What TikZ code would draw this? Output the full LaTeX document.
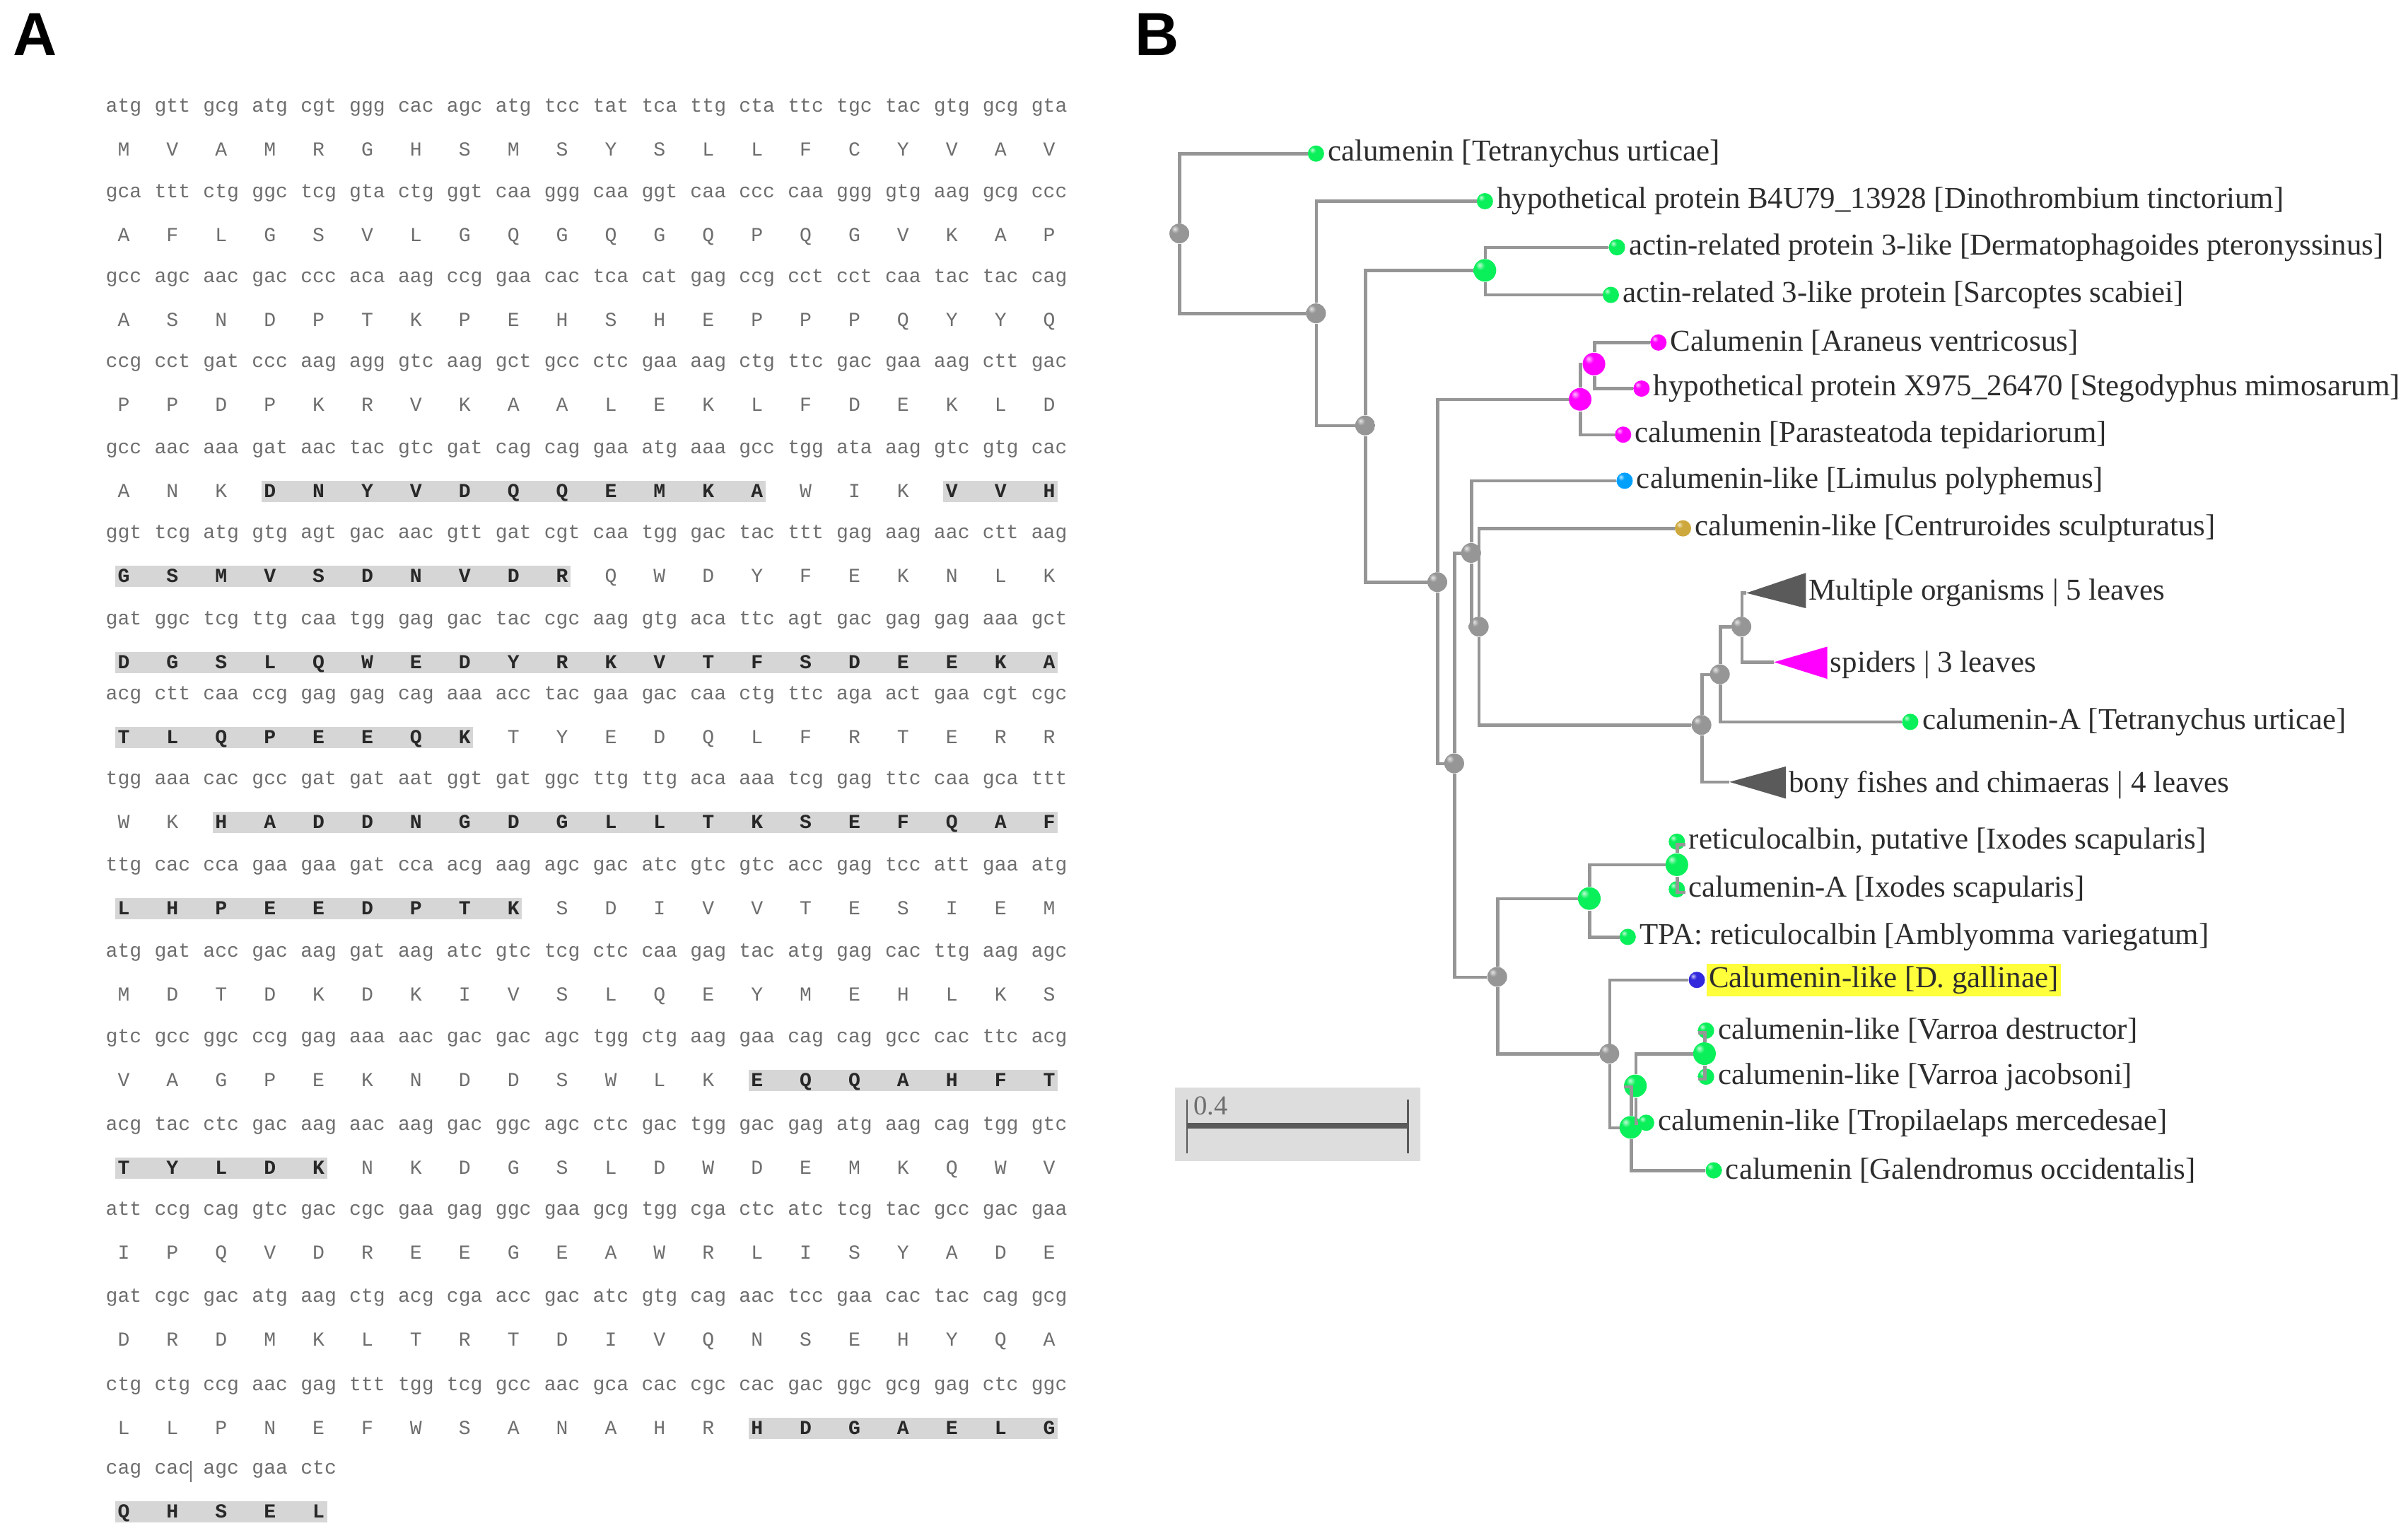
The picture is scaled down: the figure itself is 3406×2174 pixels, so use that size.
\documentclass[tikz,border=0pt]{standalone}
\usepackage{fontspec}
\usepackage{tikz}
\usetikzlibrary{positioning}
\newfontfamily\seqfont{Liberation Mono}
\newfontfamily\treefont{Liberation Serif}
\newfontfamily\panelfont{Liberation Sans}
\definecolor{seqgray}{RGB}{110,110,110}
\definecolor{seqdark}{RGB}{40,40,40}
\definecolor{hlgray}{RGB}{214,214,214}
\definecolor{branchgray}{RGB}{150,150,150}
\definecolor{nodegray}{RGB}{150,150,150}
\definecolor{leafgreen}{RGB}{10,240,90}
\definecolor{spidermag}{RGB}{255,0,255}
\definecolor{limblue}{RGB}{0,160,255}
\definecolor{scorpgold}{RGB}{205,168,60}
\definecolor{galblue}{RGB}{50,40,220}
\definecolor{cladegray}{RGB}{90,90,90}
\definecolor{labgray}{RGB}{45,45,45}
\definecolor{boxgray}{RGB}{221,221,221}
\definecolor{marky}{RGB}{255,255,60}
\makeatletter
\pgfdeclareradialshading[tikz@ball]{softball}{\pgfqpoint{-12bp}{12bp}}{%
  color(0bp)=(tikz@ball!25!white); color(10bp)=(tikz@ball);
  color(42bp)=(tikz@ball); color(58bp)=(tikz@ball!82!black);
  color(80bp)=(tikz@ball!75!black)}
\makeatother
\tikzset{knob color/.style={ball color=#1,shading=softball}}

\begin{document}
\begin{tikzpicture}[x=0.01cm,y=-0.01cm]
\tikzstyle{codon}=[inner sep=0,anchor=base,text=seqgray,font=\seqfont\fontsize{8}{9}\selectfont]
\tikzstyle{aa}=[codon]
\tikzstyle{aabold}=[codon,text=seqdark,font=\seqfont\bfseries\fontsize{8}{9}\selectfont]
\tikzstyle{hlbar}=[fill=hlgray]
\tikzstyle{panel}=[inner sep=0,font=\panelfont\bfseries\fontsize{24.5}{26}\selectfont]
\tikzstyle{branch}=[draw=branchgray,line width=1.3pt]
\tikzstyle{branchpt}=[circle,inner sep=0,minimum size=0.28cm,knob color=nodegray]
\tikzstyle{bigpt}=[circle,inner sep=0,minimum size=0.32cm]
\tikzstyle{leafpt}=[circle,inner sep=0,minimum size=0.23cm]
\tikzstyle{taxon}=[inner sep=1pt,text=labgray,font=\treefont\fontsize{12.2}{14}\selectfont]
\useasboundingbox[fill=white] (0,0) rectangle (3406,2174);

\node[panel] (labA) at (50,49) {A};
\node[panel] (labB) at (1637,49) {B};

% panel A: codons and translation
\foreach \r/\y/\cods/\aas/\ba/\bb/\bc/\bd in {
0/152/{atg,gtt,gcg,atg,cgt,ggg,cac,agc,atg,tcc,tat,tca,ttg,cta,ttc,tgc,tac,gtg,gcg,gta}/{M,V,A,M,R,G,H,S,M,S,Y,S,L,L,F,C,Y,V,A,V}/-1/-1/-1/-1,
1/273/{gca,ttt,ctg,ggc,tcg,gta,ctg,ggt,caa,ggg,caa,ggt,caa,ccc,caa,ggg,gtg,aag,gcg,ccc}/{A,F,L,G,S,V,L,G,Q,G,Q,G,Q,P,Q,G,V,K,A,P}/-1/-1/-1/-1,
2/393/{gcc,agc,aac,gac,ccc,aca,aag,ccg,gaa,cac,tca,cat,gag,ccg,cct,cct,caa,tac,tac,cag}/{A,S,N,D,P,T,K,P,E,H,S,H,E,P,P,P,Q,Y,Y,Q}/-1/-1/-1/-1,
3/513/{ccg,cct,gat,ccc,aag,agg,gtc,aag,gct,gcc,ctc,gaa,aag,ctg,ttc,gac,gaa,aag,ctt,gac}/{P,P,D,P,K,R,V,K,A,A,L,E,K,L,F,D,E,K,L,D}/-1/-1/-1/-1,
4/635/{gcc,aac,aaa,gat,aac,tac,gtc,gat,cag,cag,gaa,atg,aaa,gcc,tgg,ata,aag,gtc,gtg,cac}/{A,N,K,D,N,Y,V,D,Q,Q,E,M,K,A,W,I,K,V,V,H}/3/13/17/19,
5/755/{ggt,tcg,atg,gtg,agt,gac,aac,gtt,gat,cgt,caa,tgg,gac,tac,ttt,gag,aag,aac,ctt,aag}/{G,S,M,V,S,D,N,V,D,R,Q,W,D,Y,F,E,K,N,L,K}/0/9/-1/-1,
6/877/{gat,ggc,tcg,ttg,caa,tgg,gag,gac,tac,cgc,aag,gtg,aca,ttc,agt,gac,gag,gag,aaa,gct}/{D,G,S,L,Q,W,E,D,Y,R,K,V,T,F,S,D,E,E,K,A}/0/19/-1/-1,
7/983/{acg,ctt,caa,ccg,gag,gag,cag,aaa,acc,tac,gaa,gac,caa,ctg,ttc,aga,act,gaa,cgt,cgc}/{T,L,Q,P,E,E,Q,K,T,Y,E,D,Q,L,F,R,T,E,R,R}/0/7/-1/-1,
8/1103/{tgg,aaa,cac,gcc,gat,gat,aat,ggt,gat,ggc,ttg,ttg,aca,aaa,tcg,gag,ttc,caa,gca,ttt}/{W,K,H,A,D,D,N,G,D,G,L,L,T,K,S,E,F,Q,A,F}/2/19/-1/-1,
9/1225/{ttg,cac,cca,gaa,gaa,gat,cca,acg,aag,agc,gac,atc,gtc,gtc,acc,gag,tcc,att,gaa,atg}/{L,H,P,E,E,D,P,T,K,S,D,I,V,V,T,E,S,I,E,M}/0/8/-1/-1,
10/1347/{atg,gat,acc,gac,aag,gat,aag,atc,gtc,tcg,ctc,caa,gag,tac,atg,gag,cac,ttg,aag,agc}/{M,D,T,D,K,D,K,I,V,S,L,Q,E,Y,M,E,H,L,K,S}/-1/-1/-1/-1,
11/1468/{gtc,gcc,ggc,ccg,gag,aaa,aac,gac,gac,agc,tgg,ctg,aag,gaa,cag,cag,gcc,cac,ttc,acg}/{V,A,G,P,E,K,N,D,D,S,W,L,K,E,Q,Q,A,H,F,T}/13/19/-1/-1,
12/1592/{acg,tac,ctc,gac,aag,aac,aag,gac,ggc,agc,ctc,gac,tgg,gac,gag,atg,aag,cag,tgg,gtc}/{T,Y,L,D,K,N,K,D,G,S,L,D,W,D,E,M,K,Q,W,V}/0/4/-1/-1,
13/1712/{att,ccg,cag,gtc,gac,cgc,gaa,gag,ggc,gaa,gcg,tgg,cga,ctc,atc,tcg,tac,gcc,gac,gaa}/{I,P,Q,V,D,R,E,E,G,E,A,W,R,L,I,S,Y,A,D,E}/-1/-1/-1/-1,
14/1835/{gat,cgc,gac,atg,aag,ctg,acg,cga,acc,gac,atc,gtg,cag,aac,tcc,gaa,cac,tac,cag,gcg}/{D,R,D,M,K,L,T,R,T,D,I,V,Q,N,S,E,H,Y,Q,A}/-1/-1/-1/-1,
15/1960/{ctg,ctg,ccg,aac,gag,ttt,tgg,tcg,gcc,aac,gca,cac,cgc,cac,gac,ggc,gcg,gag,ctc,ggc}/{L,L,P,N,E,F,W,S,A,N,A,H,R,H,D,G,A,E,L,G}/13/19/-1/-1,
16/2078/{cag,cac,agc,gaa,ctc}/{Q,H,S,E,L}/0/4/-1/-1}{
  \ifnum\ba>-1 \fill[hlbar] ({175+68.9*\ba-12},{\y+45}) rectangle ({175+68.9*\bb+12},{\y+75}); \fi
  \ifnum\bc>-1 \fill[hlbar] ({175+68.9*\bc-12},{\y+45}) rectangle ({175+68.9*\bd+12},{\y+75}); \fi
  \foreach \c [count=\j from 0] in \cods
    \node[codon] (cod-\r-\j) at ({175+68.9*\j},{\y+6}) {\c};
  \foreach \a [count=\j from 0] in \aas {
    \pgfmathtruncatemacro\isb{((\j>=\ba)&&(\j<=\bb))||((\j>=\bc)&&(\j<=\bd))}
    \ifnum\isb=1
      \node[aabold] (aa-\r-\j) at ({175+68.9*\j},{\y+68}) {\a};
    \else
      \node[aa] (aa-\r-\j) at ({175+68.9*\j},{\y+68}) {\a};
    \fi
  }
}
% text cursor in the last row
\draw[seqgray,line width=0.4pt] (270,2066) -- (270,2096);

% panel B: tree
\begin{scope}[scale=2.172]
\node[branchpt] (N1) at (768,152) {};
\node[branchpt] (N2) at (857,204) {};
\node[branchpt] (N3) at (889,277) {};
\node[bigpt,knob color=leafgreen] (N4) at (967,176) {};
\node[branchpt] (N5) at (936,379) {};
\node[bigpt,knob color=spidermag] (N6) at (1029,260) {};
\node[bigpt,knob color=spidermag] (N6b) at (1038,237) {};
\node[branchpt] (N7) at (947,497) {};
\node[branchpt] (N8) at (958,360) {};
\node[branchpt] (N9) at (963,408) {};
\node[branchpt] (N10) at (1108,472) {};
\node[branchpt] (N11) at (1120,439) {};
\node[branchpt] (N11b) at (1134,408) {};
\node[branchpt] (N12) at (975,636) {};
\node[bigpt,knob color=leafgreen] (N13) at (1035,585) {};
\node[bigpt,knob color=leafgreen] (N14) at (1092,563) {};
\node[branchpt] (N15) at (1048,686) {};
\node[bigpt,knob color=leafgreen] (N16) at (1062,734) {};
\node[bigpt,knob color=leafgreen] (N17) at (1065,707) {};
\node[bigpt,knob color=leafgreen] (N18) at (1110,686) {};

\node[leafpt,knob color=leafgreen] (L1) at (857,100) {};
\node[taxon,right=0pt of L1] {calumenin [Tetranychus urticae]};
\node[leafpt,knob color=leafgreen] (L2) at (967,131) {};
\node[taxon,right=0pt of L2] {hypothetical protein B4U79\_13928 [Dinothrombium tinctorium]};
\node[leafpt,knob color=leafgreen] (L3) at (1053,161) {};
\node[taxon,right=0pt of L3] {actin-related protein 3-like [Dermatophagoides pteronyssinus]};
\node[leafpt,knob color=leafgreen] (L4) at (1049,192) {};
\node[taxon,right=0pt of L4] {actin-related 3-like protein [Sarcoptes scabiei]};
\node[leafpt,knob color=spidermag] (L5) at (1080,223) {};
\node[taxon,right=0pt of L5] {Calumenin [Araneus ventricosus]};
\node[leafpt,knob color=spidermag] (L6) at (1069,253) {};
\node[taxon,right=0pt of L6] {hypothetical protein X975\_26470 [Stegodyphus mimosarum]};
\node[leafpt,knob color=spidermag] (L7) at (1057,283) {};
\node[taxon,right=0pt of L7] {calumenin [Parasteatoda tepidariorum]};
\node[leafpt,knob color=limblue] (L8) at (1058,313) {};
\node[taxon,right=0pt of L8] {calumenin-like [Limulus polyphemus]};
\node[leafpt,knob color=scorpgold] (L9) at (1096,344) {};
\node[taxon,right=0pt of L9] {calumenin-like [Centruroides sculpturatus]};
\node[leafpt,knob color=leafgreen] (L10) at (1244,470) {};
\node[taxon,right=0pt of L10] {calumenin-A [Tetranychus urticae]};
\node[leafpt,knob color=leafgreen] (L11) at (1092,548) {};
\node[taxon,right=0pt of L11] {reticulocalbin, putative [Ixodes scapularis]};
\node[leafpt,knob color=leafgreen] (L12) at (1092,579) {};
\node[taxon,right=0pt of L12] {calumenin-A [Ixodes scapularis]};
\node[leafpt,knob color=leafgreen] (L13) at (1060,610) {};
\node[taxon,right=0pt of L13] {TPA: reticulocalbin [Amblyomma variegatum]};
\node[leafpt,knob color=galblue] (L14) at (1105,638) {};
\node[taxon,fill=marky,right=0pt of L14] {Calumenin-like [D. gallinae]};
\node[leafpt,knob color=leafgreen] (L15) at (1111,671) {};
\node[taxon,right=0pt of L15] {calumenin-like [Varroa destructor]};
\node[leafpt,knob color=leafgreen] (L16) at (1111,701) {};
\node[taxon,right=0pt of L16] {calumenin-like [Varroa jacobsoni]};
\node[leafpt,knob color=leafgreen] (L17) at (1072,731) {};
\node[taxon,right=0pt of L17] {calumenin-like [Tropilaelaps mercedesae]};
\node[leafpt,knob color=leafgreen] (L18) at (1116,762) {};
\node[taxon,right=0pt of L18] {calumenin [Galendromus occidentalis]};

% collapsed clades
\coordinate (T1) at (1137,386);
\fill[cladegray] (T1) -- (1176,373) -- (1176,396) -- cycle;
\node[taxon,anchor=west] (T1lab) at (1176,386) {Multiple organisms | 5 leaves};
\coordinate (T2) at (1155,431);
\fill[spidermag] (T2) -- (1190,421) -- (1190,442) -- cycle;
\node[taxon,anchor=west] (T2lab) at (1190,433) {spiders | 3 leaves};
\coordinate (T3) at (1126,509);
\fill[cladegray] (T3) -- (1163,499) -- (1163,520) -- cycle;
\node[taxon,anchor=west] (T3lab) at (1163,511) {bony fishes and chimaeras | 4 leaves};

\foreach \p/\c in {N1/L1,N1/N2,N2/L2,N2/N3,N3/N4,N3/N5,N4/L3,N4/L4,
  N5/N6,N5/N7,N6/N6b,N6/L7,N6b/L5,N6b/L6,N7/N8,N7/N12,N8/L8,N8/N9,
  N9/L9,N9/N10,N10/N11,N10/T3,N11/N11b,N11/L10,N11b/T1,N11b/T2,
  N12/N13,N12/N15,N13/N14,N13/L13,N14/L11,N14/L12,N15/L14,N15/N16,
  N16/N17,N16/L18,N17/N18,N17/L17,N18/L15,N18/L16}
  \draw[branch] (\p) |- (\c);

% scale bar
\fill[boxgray] (765,708) rectangle (925,756);
\draw[cladegray,line width=2.2pt] (773,733) -- (917,733);
\draw[cladegray,line width=0.8pt] (773,716) -- (773,751) (917,716) -- (917,751);
\node[inner sep=0,anchor=west,text=seqgray,font=\treefont\fontsize{11}{12}\selectfont] (barlab) at (777,720) {0.4};
\end{scope}
\end{tikzpicture}
\end{document}
